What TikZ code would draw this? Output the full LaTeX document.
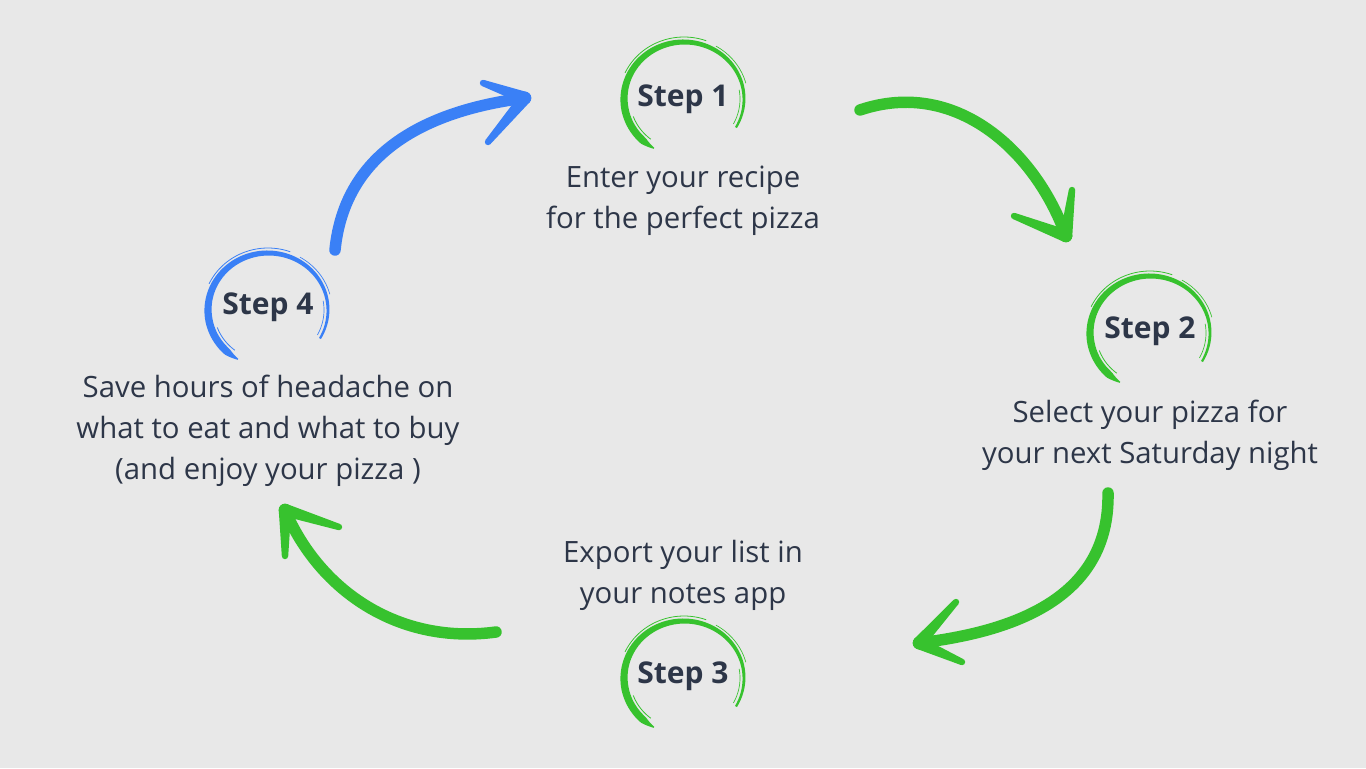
\documentclass[tikz,border=0pt]{standalone}
\usepackage{fontspec}
\setmainfont{Open Sans}
\usetikzlibrary{calc}
\definecolor{bg}{HTML}{E8E8E8}
\definecolor{txt}{HTML}{2D3648}
\definecolor{grn}{HTML}{37C22E}
\definecolor{blu}{HTML}{3A80F6}
\newcommand{\brushring}[3]{%
  \fill[#3] plot[domain=120:390,samples=90] ({#1+(60+hw(\x))*cos(\x)},{#2+(57+hw(\x))*sin(\x)})
    -- plot[domain=390:120,samples=90] ({#1+(60-hw(\x))*cos(\x)},{#2+(57-hw(\x))*sin(\x)}) -- cycle;
  \draw[#3,line width=0.6pt] plot[domain=205:290,samples=40] ({#1+65*cos(\x)},{#2+62*sin(\x)});
  \draw[#3,line width=0.5pt] plot[domain=300:345,samples=30] ({#1+64*cos(\x)},{#2+61*sin(\x)});
  \draw[#3,line width=0.5pt] plot[domain=350:388,samples=30] ({#1+56*cos(\x)},{#2+53*sin(\x)});
  \draw[#3,line width=0.6pt] plot[domain=128:160,samples=20] ({#1+54*cos(\x)},{#2+51*sin(\x)});
}
\newcommand{\barb}[3]{%
  \fill[#3] ($(#1)!4.7pt!90:(#2)$) -- ($(#2)!2.4pt!-90:(#1)$) -- ($(#2)!2.4pt!90:(#1)$) -- ($(#1)!4.7pt!-90:(#2)$) -- cycle;
  \fill[#3] (#2) circle[radius=2.4pt];
  \fill[#3] (#1) circle[radius=4.7pt];
}
\begin{document}
\begin{tikzpicture}[x=0.75pt,y=-0.75pt,
  declare function={hw(\t)=max(0.4,min((\t-118)*0.25,3.7-2.6*max(0,\t-170)/220));},
  steplbl/.style={text=txt,font=\bfseries\fontsize{22.5}{27}\selectfont,inner sep=0pt},
  desc/.style={text=txt,font=\fontsize{22}{30.75}\selectfont,align=center,inner sep=0pt},
  body/.style={line width=8.6pt,line cap=round,line join=round}]
\fill[bg] (0,0) rectangle (1366,768);
\useasboundingbox (0,0) rectangle (1366,768);

% rings
\brushring{684}{99}{grn}
\brushring{1150}{333}{grn}
\brushring{684}{678}{grn}
\brushring{268}{310}{blu}

% labels
\node[steplbl] (s1) at (683,99) {Step 1};
\node[steplbl] (s2) at (1150,331) {Step 2};
\node[steplbl] (s3) at (683,676) {Step 3};
\node[steplbl] (s4) at (268,307) {Step 4};

\node[desc] (d1) at (683,201) {Enter your recipe\\for the perfect pizza};
\node[desc] (d2) at (1150,435) {Select your pizza for\\your next Saturday night};
\node[desc] (d3) at (683,575) {Export your list in\\your notes app};
\node[desc] (d4) at (268,431) {Save hours of headache on\\what to eat and what to buy\\(and enjoy your pizza )};

% arrow coordinates
\coordinate (a1s) at (860,110); \coordinate (a1t) at (1066,236);
\coordinate (a1b) at (1014,216); \coordinate (a1c) at (1072,190);
\coordinate (a2s) at (1108,493); \coordinate (a2t) at (919,643);
\coordinate (a2b) at (956,602); \coordinate (a2c) at (962,662);
\coordinate (a3s) at (496,632); \coordinate (a3t) at (285,510);
\coordinate (a3b) at (339,527); \coordinate (a3c) at (285,556);
\coordinate (a4s) at (335,250); \coordinate (a4t) at (525,98);
\coordinate (a4b) at (483,83); \coordinate (a4c) at (488,142);

\draw[body,grn] (a1s) .. controls (955,78) and (1035,150) .. (a1t);
\barb{a1t}{a1b}{grn}\barb{a1t}{a1c}{grn}
\draw[body,grn] (a2s) .. controls (1110,600) and (1010,632) .. (a2t);
\barb{a2t}{a2b}{grn}\barb{a2t}{a2c}{grn}
\draw[body,grn] (a3s) .. controls (400,645) and (320,592) .. (a3t);
\barb{a3t}{a3b}{grn}\barb{a3t}{a3c}{grn}
\draw[body,blu] (a4s) .. controls (345,150) and (430,110) .. (a4t);
\barb{a4t}{a4b}{blu}\barb{a4t}{a4c}{blu}
\end{tikzpicture}
\end{document}
